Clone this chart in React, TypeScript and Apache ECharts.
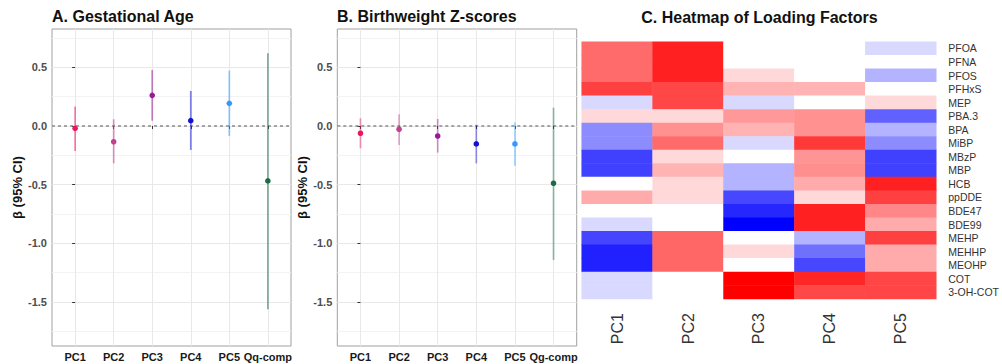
import React, { useEffect, useRef } from "react";
import * as echarts from "echarts";

const CATS_A = ["PC1", "PC2", "PC3", "PC4", "PC5", "Qq-comp"];
const CATS_B = ["PC1", "PC2", "PC3", "PC4", "PC5", "Qg-comp"];
const EST_A = [-0.02, -0.134, 0.261, 0.045, 0.193, -0.468];
const LO_A = [-0.213, -0.318, 0.045, -0.204, -0.085, -1.561];
const HI_A = [0.165, 0.057, 0.477, 0.298, 0.471, 0.619];
const EST_B = [-0.062, -0.028, -0.085, -0.153, -0.153, -0.488];
const LO_B = [-0.19, -0.162, -0.227, -0.318, -0.338, -1.141];
const HI_B = [0.066, 0.1, 0.06, 0.01, 0.03, 0.156];
const POINT_COLORS = ["#E8185E", "#C2408F", "#9A1A96", "#1212D4", "#3399FF", "#1B6B48"];

const Y_MAJOR = [-1.5, -1.0, -0.5, 0.0, 0.5];
const Y_MINOR = [-1.75, -1.25, -0.75, -0.25, 0.25, 0.75];

const HEAT_COLS = ["PC1", "PC2", "PC3", "PC4", "PC5"];
const HEAT_ROWS = [
  "PFOA", "PFNA", "PFOS", "PFHxS", "MEP", "PBA.3", "BPA", "MiBP", "MBzP", "MBP",
  "HCB", "ppDDE", "BDE47", "BDE99", "MEHP", "MEHHP", "MEOHP", "COT", "3-OH-COT",
];
const LOAD_PC1 = [0.58, 0.58, 0.58, 0.75, -0.15, 0.15, -0.45, -0.45, -0.75, -0.75, 0, 0.33, 0, -0.15, -0.73, -0.87, -0.87, -0.15, -0.15];
const LOAD_PC2 = [0.87, 0.87, 0.87, 0.72, 0.72, 0.15, 0.43, 0.58, 0.15, 0.3, 0.15, 0.15, 0, 0, 0.6, 0.6, 0.6, 0, 0];
const LOAD_PC3 = [0, 0, 0.15, 0.3, -0.15, 0.4, 0.3, -0.15, 0, -0.3, -0.3, -0.72, -0.85, -1, 0, 0.15, 0, 1, 1];
const LOAD_PC4 = [0, 0, 0, 0.3, 0, 0.43, 0.43, 0.78, 0.42, 0.44, 0.33, 0.15, 0.87, 0.87, -0.3, -0.56, -0.72, 0.85, 0.72];
const LOAD_PC5 = [-0.15, 0, -0.3, 0, 0.15, -0.62, -0.3, -0.45, -0.75, -0.75, 0.87, 0.75, 0.47, 0.33, 0.75, 0.33, 0.33, 0.73, 0.73];

const FONT = "'Liberation Sans', Arial, sans-serif";
const Y_MIN = -1.874;
const Y_MAX = 0.826;
const X_MIN = -0.6;
const X_MAX = 5.6;

function forestAxes(gridIndex: number, cats: string[]) {
  const xAxis = {
    type: "value",
    gridIndex,
    min: X_MIN,
    max: X_MAX,
    axisLine: { show: false },
    axisTick: { show: true, customValues: [0, 1, 2, 3, 4, 5], length: 3, lineStyle: { color: "#333", width: 1 } },
    axisLabel: {
      customValues: [0, 1, 2, 3, 4, 5],
      formatter: (v: number) => cats[Math.round(v)] ?? "",
      fontFamily: FONT,
      fontWeight: "bold",
      fontSize: 11,
      color: "#1A1A1A",
      margin: 5,
    },
    splitLine: { show: true, lineStyle: { color: "#E8E8E8", width: 1 } },
  };
  const yMajor = {
    type: "value",
    gridIndex,
    position: "left",
    min: Y_MIN,
    max: Y_MAX,
    name: "β (95% CI)",
    nameLocation: "middle",
    nameRotate: 90,
    nameGap: 28,
    nameTextStyle: { fontFamily: FONT, fontWeight: "bold", fontSize: 13, color: "#111" },
    axisLine: { show: false },
    axisTick: { show: true, customValues: Y_MAJOR, length: 3, lineStyle: { color: "#333", width: 1 } },
    axisLabel: {
      customValues: Y_MAJOR,
      formatter: (v: number) => v.toFixed(1),
      fontFamily: FONT,
      fontWeight: "bold",
      fontSize: 11,
      color: "#4D4D4D",
      margin: 5,
    },
    splitLine: { show: true, lineStyle: { color: "#E8E8E8", width: 1 } },
  };
  const yMinor = {
    type: "value",
    gridIndex,
    position: "left",
    min: Y_MIN,
    max: Y_MAX,
    axisLine: { show: false },
    axisTick: { show: false, customValues: Y_MINOR },
    axisLabel: { show: false, customValues: Y_MINOR },
    splitLine: { show: true, lineStyle: { color: "#F3F3F3", width: 1 } },
  };
  return { xAxis, yMajor, yMinor };
}

function forestSeries(xAxisIndex: number, yAxisIndex: number, est: number[], lo: number[], hi: number[], ciOpacity: number) {
  const data = est.map((e, i) => [i, e, lo[i], hi[i]]);
  return [
    {
      type: "line",
      xAxisIndex,
      yAxisIndex,
      data: [[X_MIN, 0], [X_MAX, 0]],
      symbol: "none",
      silent: true,
      lineStyle: { color: "#555", width: 1, type: [3, 3] },
      z: 2,
    },
    {
      type: "custom",
      xAxisIndex,
      yAxisIndex,
      data,
      encode: { x: 0, y: [1, 2, 3] },
      z: 3,
      renderItem: (params: any, api: any) => {
        const x = api.value(0);
        const p = api.coord([x, api.value(1)]);
        const pLo = api.coord([x, api.value(2)]);
        const pHi = api.coord([x, api.value(3)]);
        const c = POINT_COLORS[params.dataIndex];
        return {
          type: "group",
          children: [
            {
              type: "line",
              shape: { x1: pLo[0], y1: pLo[1], x2: pHi[0], y2: pHi[1] },
              style: { stroke: c, lineWidth: 1.7, opacity: ciOpacity },
            },
            {
              type: "circle",
              shape: { cx: p[0], cy: p[1], r: 2.8 },
              style: { fill: c },
            },
          ],
        };
      },
    },
  ];
}

export default function App() {
  const ref = useRef<HTMLDivElement>(null);

  useEffect(() => {
    document.body.style.margin = "0";
    if (!ref.current) return;
    const chart = echarts.init(ref.current, undefined, { renderer: "svg" });

    const a = forestAxes(0, CATS_A);
    const b = forestAxes(1, CATS_B);

    const loads = [LOAD_PC1, LOAD_PC2, LOAD_PC3, LOAD_PC4, LOAD_PC5];
    const heatData: number[][] = [];
    loads.forEach((col, ci) => col.forEach((v, ri) => heatData.push([ci, ri, v])));

    const titleStyle = { fontFamily: FONT, fontWeight: "bold", fontSize: 16, color: "#111" };

    chart.setOption({
      animation: false,
      backgroundColor: "#fff",
      title: [
        { text: "A. Gestational Age", left: 52, top: 8, padding: 0, textStyle: titleStyle },
        { text: "B. Birthweight Z-scores", left: 337, top: 8, padding: 0, textStyle: titleStyle },
        { text: "C. Heatmap of Loading Factors", left: 759.5, top: 9, padding: 0, textAlign: "center", textStyle: titleStyle },
      ],
      grid: [
        { left: 52, top: 29, width: 239, height: 317, show: true, borderColor: "#A0A0A0", borderWidth: 1, backgroundColor: "transparent" },
        { left: 337.3, top: 29, width: 239.4, height: 317, show: true, borderColor: "#A0A0A0", borderWidth: 1, backgroundColor: "transparent" },
        { left: 581.7, top: 41.7, width: 355.6, height: 257.3 },
      ],
      xAxis: [
        a.xAxis,
        b.xAxis,
        {
          type: "category",
          gridIndex: 2,
          data: HEAT_COLS,
          axisLine: { show: false },
          axisTick: { show: false },
          splitLine: { show: false },
          axisLabel: { interval: 0, rotate: 90, fontFamily: FONT, fontSize: 16, color: "#333", margin: 14 },
        },
      ],
      yAxis: [
        a.yMajor,
        a.yMinor,
        b.yMajor,
        b.yMinor,
        {
          type: "category",
          gridIndex: 2,
          data: HEAT_ROWS,
          inverse: true,
          position: "right",
          axisLine: { show: false },
          axisTick: { show: false },
          splitLine: { show: false },
          axisLabel: { interval: 0, fontFamily: FONT, fontSize: 10.5, color: "#333", margin: 12 },
        },
      ],
      visualMap: {
        type: "continuous",
        show: false,
        min: -1,
        max: 1,
        seriesIndex: 4,
        inRange: { color: ["#0000FF", "#FFFFFF", "#FF0000"] },
      },
      series: [
        ...forestSeries(0, 0, EST_A, LO_A, HI_A, 0.55),
        ...forestSeries(1, 2, EST_B, LO_B, HI_B, 0.45),
        {
          type: "heatmap",
          xAxisIndex: 2,
          yAxisIndex: 4,
          data: heatData,
          itemStyle: { borderWidth: 0 },
          emphasis: { disabled: true },
        },
      ],
    });

    return () => chart.dispose();
  }, []);

  return <div ref={ref} style={{ width: 1002, height: 364 }} />;
}
